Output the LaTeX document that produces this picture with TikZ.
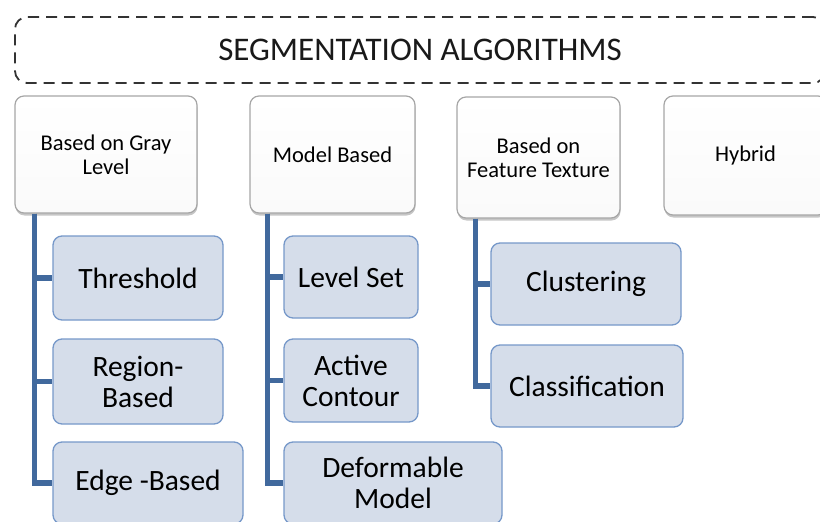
\documentclass[tikz,border=0pt]{standalone}
\usepackage{fontspec}
\setmainfont{Carlito}
\usepackage{tikz}
\usetikzlibrary{shadows}
\definecolor{linkblue}{HTML}{41699D}
\definecolor{subfill}{HTML}{D5DDEA}
\definecolor{subdraw}{HTML}{7698C9}

\begin{document}
\begin{tikzpicture}[x=1pt, y=-1pt,
        titlebox/.style={draw=black!80, line width=1.8pt, dash pattern=on 11pt off 7pt, rounded corners=12pt,
            minimum width=810pt, minimum height=66pt, text=black!90, font=\fontsize{33}{36}\selectfont},
        mainbox/.style={draw=gray!70, line width=1.2pt, top color=white, bottom color=gray!4, rounded corners=9pt,
            align=center, text=black, font=\fontsize{22.5}{24}\selectfont,
            drop shadow={shadow xshift=0.5pt, shadow yshift=-2.5pt, opacity=0.45}},
        subbox/.style={draw=subdraw, line width=1.3pt, fill=subfill, rounded corners=9pt,
            align=center, text=black, font=\fontsize{29.5}{31}\selectfont},
        link/.style={linkblue, line width=5.5pt}]
    \useasboundingbox (0,0) rectangle (820,522);
    \clip (0,0) rectangle (820,522);

    \node[titlebox] (title) at (420,50) {SEGMENTATION ALGORITHMS};

    \node[mainbox, minimum width=182pt, minimum height=117pt] (gray) at (106,154.5) {Based on Gray\\Level};
    \node[mainbox, minimum width=165pt, minimum height=117pt] (model) at (332.5,154.5) {Model Based};
    \node[mainbox, minimum width=163pt, minimum height=121pt] (feature) at (538.5,157.5) {Based on\\Feature Texture};
    \node[mainbox, minimum width=163pt, minimum height=119pt] (hybrid) at (745.5,155.5) {Hybrid};

    \node[subbox, minimum width=170pt, minimum height=84pt] (thr) at (138,278) {Threshold};
    \node[subbox, minimum width=170pt, minimum height=85pt] (reg) at (138,381.5) {Region-\\Based};
    \node[subbox, minimum width=190pt, minimum height=82pt] (edge) at (148,483) {Edge -Based};

    \node[subbox, minimum width=134pt, minimum height=82pt] (lvl) at (351,277) {Level Set};
    \node[subbox, minimum width=134pt, minimum height=83pt] (act) at (351,380.5) {Active\\Contour};
    \node[subbox, minimum width=218pt, minimum height=82pt] (def) at (393,483) {Deformable\\Model};

    \node[subbox, minimum width=190pt, minimum height=82pt] (clu) at (586,284) {Clustering};
    \node[subbox, minimum width=192pt, minimum height=82pt] (cls) at (587,386) {Classification};

    \foreach \c in {thr,reg,edge}
        \draw[link] ([xshift=20pt]gray.south west) |- (\c.west);
    \foreach \c in {lvl,act,def}
        \draw[link] ([xshift=18pt]model.south west) |- (\c.west);
    \foreach \c in {clu,cls}
        \draw[link] ([xshift=19pt]feature.south west) |- (\c.west);
\end{tikzpicture}
\end{document}
